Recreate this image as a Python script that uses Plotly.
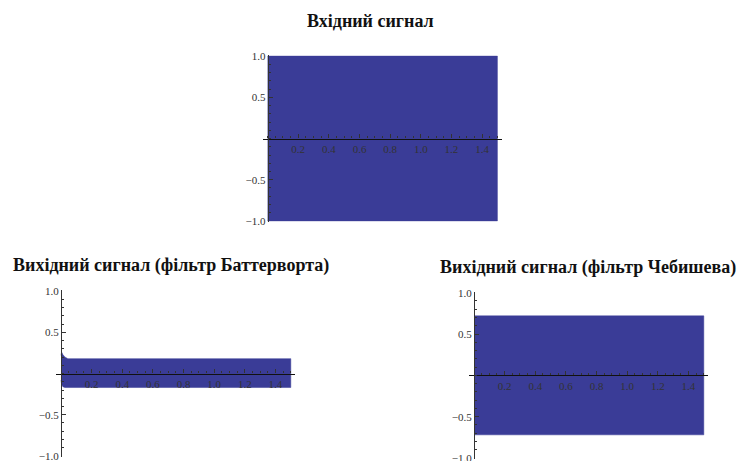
import plotly.graph_objects as go

# ---- data (envelopes of the dense signals) ----
t_in = [0.0, 1.5]
up_in = [1.0, 1.0]
lo_in = [-1.0, -1.0]

t_bw = [0.0, 0.004, 0.012, 0.025, 0.045, 1.5]
up_bw = [0.22, 0.26, 0.23, 0.20, 0.18, 0.18]
lo_bw = [-0.08, -0.13, -0.16, -0.17, -0.17, -0.17]

t_ch = [0.0, 1.5]
up_ch = [0.72, 0.72]
lo_ch = [-0.72, -0.72]

x_ticks = [0.2, 0.4, 0.6, 0.8, 1.0, 1.2, 1.4]
x_tick_text = ["0.2", "0.4", "0.6", "0.8", "1.0", "1.2", "1.4"]
y_ticks = [1.0, 0.5, -0.5, -1.0]
y_tick_text = ["1.0", "0.5", "\u22120.5", "\u22121.0"]

titles = ["Вхідний сигнал",
          "Вихідний сигнал (фільтр Баттерворта)",
          "Вихідний сигнал (фільтр Чебишева)"]

W, H = 741, 461
FILL = "#3a3c97"

# pixel boxes of each plot: (left, right, top, bottom, x0px, y0px)
boxes = [
    (263.0, 502.0, 55.2, 221.8, 267.6, 138.5),
    (56.4, 295.4, 290.2, 456.8, 61.0, 373.5),
    (469.4, 708.4, 291.9, 458.8, 474.0, 375.3),
]
title_pos = [(371, 21), (171, 265), (588, 267)]

series = [(t_in, up_in, lo_in), (t_bw, up_bw, lo_bw), (t_ch, up_ch, lo_ch)]

fig = go.Figure()
tick_font = dict(family="Liberation Serif", size=11, color="#333333")

for i, ((t, up, lo), box) in enumerate(zip(series, boxes)):
    sfx = "" if i == 0 else str(i + 1)
    xs = list(t) + list(reversed(t))
    ys = list(up) + list(reversed(lo))
    fig.add_trace(go.Scatter(
        x=xs, y=ys, fill="toself", fillcolor=FILL,
        line=dict(color=FILL, width=0.5), mode="lines",
        hoverinfo="skip", showlegend=False,
        xaxis="x" + sfx, yaxis="y" + sfx))
    l, r, tp, b, x0, y0 = box
    xdom = [l / W, r / W]
    ydom = [1 - b / H, 1 - tp / H]
    fig.layout["xaxis" + sfx] = dict(
        domain=xdom, range=[-0.03, 1.53], anchor="free", automargin=False,
        ticklabeloverflow="allow",
        position=1 - y0 / H, tickmode="array", tickvals=x_ticks,
        ticktext=x_tick_text, ticks="inside", ticklen=4, tickwidth=1,
        tickcolor="#333333", showline=True, linecolor="#111111",
        linewidth=1.2, showgrid=False, zeroline=False, tickfont=tick_font,
        minor=dict(tickmode="linear", tick0=0, dtick=0.05, ticks="inside",
                   ticklen=2, tickcolor="#333333", showgrid=False),
        fixedrange=True)
    fig.layout["yaxis" + sfx] = dict(
        domain=ydom, range=[-1.01, 1.01], anchor="free", automargin=False,
        ticklabeloverflow="allow",
        position=x0 / W, tickmode="array", tickvals=y_ticks,
        ticktext=y_tick_text, ticks="inside", ticklen=4, tickwidth=1,
        tickcolor="#333333", showline=True, linecolor="#333333",
        linewidth=1, showgrid=False, zeroline=False, tickfont=tick_font,
        minor=dict(tickmode="linear", tick0=0, dtick=0.1, ticks="inside",
                   ticklen=2, tickcolor="#333333", showgrid=False),
        fixedrange=True)

for txt, (px, py) in zip(titles, title_pos):
    fig.add_annotation(
        text="<b>" + txt + "</b>", x=px / W, y=1 - py / H,
        xref="paper", yref="paper", showarrow=False,
        xanchor="center", yanchor="middle",
        font=dict(family="Liberation Serif", size=18, color="#111111"))

fig.update_layout(width=W, height=H, margin=dict(l=0, r=0, t=0, b=0),
                  paper_bgcolor="white", plot_bgcolor="white")

fig.write_html("out.html", config={"displayModeBar": False},
               post_script="document.body.style.margin='0';"
                           "document.body.style.padding='0';")
